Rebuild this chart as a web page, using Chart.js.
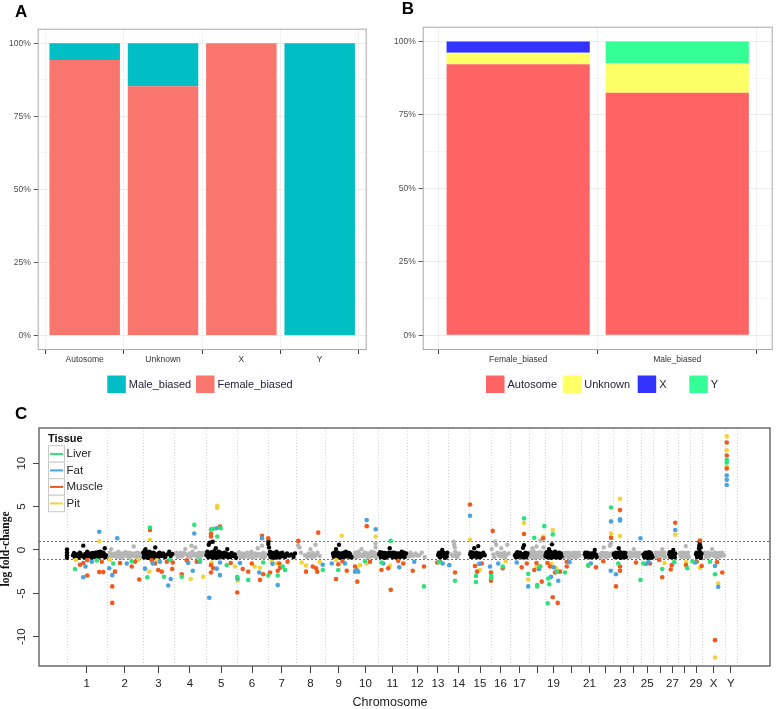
<!DOCTYPE html>
<html>
<head>
<meta charset="utf-8">
<script src="https://cdn.jsdelivr.net/npm/chart.js@4.4.1/dist/chart.umd.min.js"></script>
<style>
  html, body { margin: 0; padding: 0; background: #fff; }
  #wrap { position: relative; width: 776px; height: 709px; overflow: hidden; background: #fff; }
  canvas { position: absolute; }
  #chartA { left: 0; top: 0; }
  #chartB { left: 390px; top: 0; }
  #chartC { left: 0; top: 400px; }
</style>
</head>
<body>
<div id="wrap">
  <canvas id="chartA" width="390" height="400"></canvas>
  <canvas id="chartB" width="386" height="400"></canvas>
  <canvas id="chartC" width="776" height="309"></canvas>
</div>
<script>
// ---- panel A: sex-biased genes by chromosome type
const chromTypes = ['Autosome', 'Unknown', 'X', 'Y'];
const femaleShare = [0.943, 0.853, 1.0, 0.0];
const maleShare = [0.057, 0.147, 0.0, 1.0];

// ---- panel B: chromosome type by bias group
const biasGroups = ['Female_biased', 'Male_biased'];
const autosomeShare = [0.922, 0.825];
const unknownShare = [0.039, 0.101];
const xShare = [0.039, 0.0];
const yShare = [0.0, 0.074];

const percentTicks = [0, 0.125, 0.25, 0.375, 0.5, 0.625, 0.75, 0.875, 1];

// ---- panel C: log fold-change along the genome
const chromosomes = ['1','2','3','4','5','6','7','8','9','10','11','12','13','14','15','16','17','18','19','20','21','22','23','24','25','26','27','28','29','X','Y'];
const chromLengths = [160,144,125,127,123,124,114,116,110,103,114,84,82,84,86,77,76,64,68,75,70,60,54,57,49,54,46,47,48,92,47];
const chromTickLabels = ['1','2','3','4','5','6','7','8','9','10','11','12','13','14','15','16','17','','19','','21','','23','','25','','27','','29','X','Y'];
const fcTicks = [-10, -5, 0, 5, 10];
const fcCutoffs = [1, -1];

// [chromosome, position (Mb), log fold-change]
const liverPoints = [['1',33,-2.2],['1',120,-1.2],['2',26,-1.55],['2',100,-1.3],['3',29,2.6],['3',18,-3.15],['3',85,-3.1],['3',109,-1.15],['4',81,2.9],['4',31,-3.1],['4',104,-1.2],['5',21,2.4],['5',30,2.45],['5',46,1.55],['5',60,2.5],['5',84,-1.75],['6',3,-3.1],['6',47,-3.45],['6',107,-1.45],['7',3,-2.95],['7',41,-2.95],['7',61,-1.9],['7',70,-2.3],['8',107,-2.3],['9',53,-2.3],['10',50,-1.3],['11',50,1.05],['11',13,-1.45],['12',69,-4.2],['13',45,-1.4],['14',27,-3.55],['15',27,-3.0],['15',27,-3.7],['16',2,-3.25],['16',2,-3.0],['16',48,-1.9],['17',56,3.65],['17',73,-2.75],['18',21,1.4],['18',33,-4.05],['18',33,-4.2],['18',61,2.75],['18',45,-1.9],['19',31,1.8],['19',17,-3.95],['19',11,-6.15],['19',13,-3.3],['19',47,-2.5],['20',12,-2.6],['21',30,-1.75],['22',51,4.9],['23',20,-1.55],['24',55,-3.45],['25',9,-1.55],['26',36,-2.2],['27',30,-1.4],['28',36,-2.1],['29',10,-1.3],['X',32,-1.35],['X',52,-2.8],['Y',7,10.4],['Y',7,10.1]];
const fatPoints = [['1',130,2.1],['1',66,-3.15],['1',100,-1.35],['1',75,-1.9],['2',42,1.35],['2',22,-2.9],['2',10,-2.1],['2',80,-1.55],['3',9,-2.15],['3',102,-4.1],['3',112,-3.35],['3',69,-1.35],['3',40,-1.55],['4',81,1.9],['4',75,-2.4],['4',57,-1.5],['4',104,-1.35],['5',14,-5.5],['5',44,2.5],['5',44,-2.15],['5',57,-2.9],['5',57,-1.45],['6',4,-3.3],['6',91,-2.6],['6',102,1.35],['6',14,-1.5],['7',41,-4.05],['7',20,-1.6],['8',107,-1.7],['9',27,-1.55],['9',80,-1.55],['10',57,3.45],['10',93,2.4],['10',10,-2.5],['10',23,-2.5],['10',16,-2.35],['11',20,-1.55],['11',84,-2.0],['12',30,-1.35],['13',60,-1.55],['14',4,-1.75],['15',3,3.95],['15',83,-1.9],['15',40,-1.6],['16',30,-1.55],['17',27,-1.45],['17',73,-4.2],['18',40,-2.2],['19',53,-3.55],['19',24,-3.1],['19',35,-2.0],['20',30,-1.4],['21',40,-1.55],['22',51,3.3],['22',50,-2.4],['23',27,3.55],['23',27,3.4],['23',11,-2.8],['24',55,1.35],['25',20,-1.6],['25',30,-1.4],['27',34,2.3],['29',20,-1.45],['X',52,-1.85],['X',65,-4.25],['Y',7,8.6],['Y',7,8.1],['Y',7,7.5]];
const musclePoints = [['1',82,-2.95],['1',130,-2.55],['1',146,-2.55],['1',66,-1.5],['1',82,-1.15],['1',140,-1.35],['1',53,-1.7],['2',22,-4.2],['2',22,-6.1],['2',33,-2.5],['2',100,-1.9],['2',130,-3.4],['2',113,-1.35],['2',53,-1.5],['3',29,2.3],['3',62,-2.3],['3',76,-2.5],['3',118,-2.2],['3',49,-1.55],['3',96,-1.35],['3',120,-1.45],['3',36,-1.2],['4',31,-2.8],['4',51,-1.2],['4',91,-1.35],['5',21,1.9],['5',21,1.55],['5',57,2.7],['5',21,-2.6],['5',30,-2.1],['5',21,-1.75],['5',100,-1.5],['6',3,-4.9],['6',47,-2.5],['6',25,-2.2],['6',61,-1.55],['6',94,-3.45],['6',107,-2.8],['6',102,1.65],['7',3,1.35],['7',10,-2.6],['7',41,-2.4],['7',47,-1.55],['7',50,-2.05],['7',80,-1.35],['8',9,1.05],['8',89,2.0],['8',40,-2.5],['8',67,-1.9],['8',80,-2.1],['8',85,-2.5],['9',44,-3.35],['9',87,-2.4],['9',53,-1.65],['9',70,-1.3],['10',57,2.75],['10',19,-3.65],['10',10,-1.9],['10',70,-1.35],['11',50,-4.6],['11',13,-2.3],['11',40,-2.1],['11',100,-1.55],['11',80,-1.25],['12',24,-2.4],['12',69,-1.9],['13',49,-1.35],['13',38,-1.45],['14',27,-2.6],['15',3,5.25],['15',23,-1.85],['15',31,-2.5],['15',50,-1.55],['16',8,2.2],['16',1,-3.55],['16',1,-2.6],['16',48,-2.1],['17',56,1.85],['17',47,-2.0],['17',67,-1.55],['18',57,1.35],['18',21,-2.3],['18',51,-3.65],['18',44,-1.9],['18',30,-1.5],['19',31,-5.45],['19',51,-6.1],['19',60,-2.5],['19',40,-2.6],['19',20,-1.9],['19',10,-1.5],['20',19,-1.9],['20',19,-1.35],['21',30,-1.8],['21',61,-2.0],['22',51,1.4],['22',20,-1.3],['23',27,4.6],['23',11,-4.2],['23',27,-1.9],['23',27,-2.4],['24',37,-1.45],['25',36,-1.55],['26',36,-3.15],['26',24,-1.15],['27',34,3.15],['27',16,-2.25],['27',20,-1.75],['28',31,-1.75],['29',40,1.1],['29',47,-1.85],['29',27,-1.35],['X',52,-10.4],['X',81,-2.6],['X',60,-1.4],['Y',7,12.4],['Y',7,10.9],['Y',7,9.4]];
const pitPoints = [['1',130,1.0],['1',37,-1.15],['2',13,-1.15],['2',126,-1.15],['3',29,1.15],['3',26,-2.5],['3',56,-1.2],['4',67,-3.35],['4',117,-3.1],['5',46,5.1],['5',46,4.85],['5',24,-1.45],['5',117,-1.9],['6',5,-3.55],['6',94,-2.05],['6',72,-1.9],['7',37,-1.55],['7',17,-1.35],['8',23,-1.45],['8',40,-1.8],['8',95,-1.4],['9',67,1.65],['9',44,-1.15],['10',93,1.55],['10',17,-2.1],['10',30,-1.75],['10',57,-1.55],['11',47,-1.8],['15',3,1.15],['15',43,-2.3],['16',60,-1.3],['17',56,3.1],['17',73,-3.4],['18',57,1.55],['18',30,-2.0],['19',31,2.3],['19',25,-1.6],['19',45,-2.1],['22',51,1.9],['23',27,5.9],['23',27,1.6],['26',45,-1.5],['27',34,1.75],['28',32,-1.4],['29',40,-2.05],['X',65,-3.85],['X',52,-12.4],['Y',7,13.1],['Y',7,11.5],['Y',7,9.6]];

// non-significant genes (black / grey by chromosome)
const bgPoints = [
  ['1',1,0.05],['1',1,-0.3],['1',1,-0.6],['1',1,-0.9],['1',25,-0.6],['1',29,-0.35],['1',32,-0.8],['1',36,-0.55],['1',40,-0.5],['1',44,-0.75],['1',48,-0.9],['1',52,-0.3],['1',55,-0.4],['1',58,-0.65],['1',62,-0.7],['1',66,0.5],['1',70,-0.85],['1',74,-0.45],['1',78,-0.5],['1',82,-0.2],['1',85,-0.75],['1',89,-0.55],['1',92,-0.4],['1',96,-0.7],['1',100,-0.9],['1',104,-0.35],['1',108,-0.6],['1',112,-0.8],['1',115,-0.3],['1',119,-0.55],['1',122,-0.8],['1',125,-0.25],['1',128,-0.5],['1',132,-0.75],['1',135,-0.2],['1',138,-0.5],['1',142,-0.7],['1',145,-0.3],['1',148,-0.4],['1',152,0.2],['1',154,-0.85],['1',156,-0.6],
  ['2',5,-0.6],['2',9,-0.85],['2',12,-0.3],['2',18,0.1],['2',21,-0.5],['2',25,-0.7],['2',29,-0.45],['2',32,-0.4],['2',36,-0.65],['2',40,-0.8],['2',44,-0.35],['2',47,-0.2],['2',51,-0.75],['2',55,-0.6],['2',59,-0.4],['2',62,-0.9],['2',66,-0.55],['2',70,-0.4],['2',74,-0.25],['2',78,-0.7],['2',82,-0.5],['2',85,-0.3],['2',89,-0.85],['2',92,-0.8],['2',96,-0.35],['2',100,-0.5],['2',104,-0.7],['2',108,0.4],['2',111,-0.4],['2',115,-0.6],['2',119,-0.85],['2',122,-0.3],['2',126,-0.55],['2',130,-0.8],['2',134,-0.4],['2',138,-0.5],
  ['3',2,-0.3],['3',4,-0.85],['3',5,-0.7],['3',7,-0.15],['3',8,-0.5],['3',11,0.1],['3',12,-0.65],['3',14,-0.8],['3',16,-0.25],['3',17,-0.4],['3',19,-0.9],['3',20,-0.6],['3',22,-0.3],['3',24,-0.9],['3',26,-0.55],['3',27,-0.2],['3',29,-0.75],['3',30,-0.5],['3',32,-0.35],['3',34,-0.75],['3',36,-0.55],['3',38,-0.35],['3',40,-0.85],['3',42,-0.6],['3',44,-0.3],['3',46,-0.9],['3',48,-0.5],['3',50,0.3],['3',55,-0.5],['3',58,-0.8],['3',62,-0.8],['3',65,-0.35],['3',68,-0.3],['3',72,-0.7],['3',75,-0.6],['3',82,-0.4],['3',86,-0.75],['3',90,-0.8],['3',98,-0.5],['3',106,-0.2],['3',112,-0.7],['3',118,-0.45],
  ['4',5,-0.5],['4',10,-0.3],['4',15,-0.8],['4',20,-0.55],['4',25,-0.3],['4',30,-0.75],['4',35,-0.6],['4',40,-0.35],['4',45,0.1],['4',50,-0.5],['4',55,-0.7],['4',62,-0.4],['4',66,-0.8],['4',70,0.5],['4',74,-0.2],['4',78,-0.6],['4',85,0.3],['4',88,-0.45],['4',92,-0.8],['4',96,-0.55],['4',100,-0.3],['4',105,-0.75],['4',110,-0.6],['4',115,-0.35],['4',120,-0.4],
  ['5',3,-0.6],['5',6,-0.2],['5',8,-0.3],['5',10,-0.85],['5',12,0.6],['5',14,-0.45],['5',16,0.85],['5',18,-0.7],['5',20,-0.5],['5',22,-0.25],['5',24,-0.8],['5',26,-0.55],['5',28,0.95],['5',30,-0.9],['5',32,-0.4],['5',34,-0.15],['5',36,-0.7],['5',38,-0.5],['5',40,0.2],['5',42,-0.35],['5',44,-0.9],['5',46,-0.6],['5',48,-0.5],['5',50,-0.8],['5',52,-0.2],['5',54,-0.45],['5',56,-0.75],['5',59,-0.3],['5',62,-0.4],['5',65,-0.65],['5',68,-0.85],['5',71,-0.5],['5',74,-0.3],['5',77,-0.75],['5',80,-0.6],['5',83,-0.4],['5',86,0.1],['5',89,-0.8],['5',92,-0.5],['5',98,-0.8],['5',104,-0.35],['5',110,-0.7],['5',116,-0.5],['5',121,-0.9],
  ['6',5,-0.5],['6',10,-0.25],['6',15,-0.8],['6',20,-0.55],['6',25,-0.4],['6',30,-0.85],['6',35,-0.7],['6',40,-0.35],['6',45,-0.3],['6',50,-0.8],['6',55,-0.6],['6',60,-0.2],['6',65,-0.9],['6',70,-0.55],['6',75,-0.4],['6',80,-0.75],['6',85,0.2],['6',90,-0.45],['6',95,-0.6],['6',99,-0.85],['6',102,0.5],['6',105,-0.5],['6',108,-0.3],['6',112,-0.8],['6',115,-0.7],['6',120,-0.5],
  ['7',3,0.7],['7',4,1.0],['7',6,0.3],['7',8,-0.5],['7',10,-0.2],['7',12,-0.8],['7',14,-0.6],['7',16,-0.3],['7',18,-0.9],['7',20,-0.6],['7',22,-0.35],['7',24,-0.9],['7',26,-0.55],['7',28,-0.4],['7',30,-0.8],['7',32,-0.7],['7',34,-0.3],['7',36,-0.2],['7',38,-0.85],['7',40,-0.55],['7',43,-0.4],['7',45,-0.85],['7',48,-0.6],['7',50,-0.4],['7',53,-0.75],['7',56,-0.7],['7',59,-0.3],['7',62,-0.5],['7',70,-0.8],['7',78,-0.4],['7',86,-0.65],['7',95,-0.5],['7',104,-0.8],['7',110,-0.4],
  ['8',8,0.55],['8',14,0.3],['8',20,-0.3],['8',35,-0.6],['8',44,-0.8],['8',50,-0.4],['8',54,-0.65],['8',58,0.1],['8',62,-0.8],['8',66,-0.35],['8',70,-0.5],['8',74,-0.75],['8',78,0.6],['8',82,-0.55],['8',86,-0.3],['8',95,-0.7],
  ['9',32,-0.4],['9',34,-0.65],['9',36,-0.8],['9',38,-0.3],['9',40,-0.55],['9',42,-0.85],['9',44,0.1],['9',46,-0.5],['9',48,-0.9],['9',50,-0.65],['9',52,-0.3],['9',54,-0.75],['9',56,0.6],['9',58,-0.45],['9',60,-0.7],['9',63,-0.9],['9',66,-0.4],['9',69,-0.6],['9',72,-0.85],['9',75,-0.3],['9',78,-0.5],['9',81,-0.75],['9',84,-0.2],['9',88,-0.55],['9',92,-0.75],['9',96,-0.35],['9',100,-0.45],['9',103,-0.85],['9',106,-0.8],
  ['10',4,-0.6],['10',8,-0.85],['10',12,-0.3],['10',16,-0.55],['10',20,-0.8],['10',24,-0.2],['10',28,-0.45],['10',32,-0.7],['10',36,0.1],['10',40,-0.55],['10',44,-0.7],['10',48,-0.3],['10',52,-0.35],['10',56,-0.6],['10',60,-0.85],['10',64,-0.4],['10',68,-0.5],['10',72,-0.75],['10',76,-0.2],['10',80,-0.45],['10',84,-0.7],['10',88,-0.3],['10',92,0.75],['10',92,0.3],['10',95,-0.8],['10',98,-0.5],
  ['11',4,-0.5],['11',7,-0.25],['11',10,-0.8],['11',13,-0.6],['11',16,-0.3],['11',19,-0.85],['11',22,-0.6],['11',25,-0.35],['11',28,-0.9],['11',31,-0.55],['11',34,-0.4],['11',37,-0.75],['11',40,-0.7],['11',43,-0.3],['11',46,0.2],['11',49,-0.65],['11',52,-0.5],['11',55,-0.3],['11',58,-0.85],['11',61,-0.55],['11',64,-0.3],['11',67,-0.8],['11',70,-0.6],['11',73,-0.4],['11',76,-0.9],['11',79,-0.6],['11',82,-0.4],['11',85,-0.85],['11',88,-0.7],['11',91,-0.45],['11',94,-0.2],['11',97,-0.75],['11',100,-0.55],['11',103,-0.3],['11',106,-0.8],['11',111,-0.4],
  ['12',5,-0.5],['12',10,-0.75],['12',15,-0.3],['12',20,-0.55],['12',25,-0.7],['12',35,-0.4],['12',42,-0.65],['12',50,-0.6],['12',60,-0.3],['12',72,-0.8],
  ['13',42,-0.6],['13',44,-0.4],['13',46,-0.3],['13',48,-0.8],['13',50,-0.85],['13',52,-0.55],['13',54,-0.5],['13',56,-0.25],['13',58,0.0],['13',60,-0.65],['13',62,-0.7],['13',64,-0.35],['13',66,-0.4],['13',68,-0.8],['13',70,-0.9],['13',72,-0.5],['13',74,-0.55],['13',76,-0.75],['13',78,-0.3],
  ['14',12,-0.5],['14',18,-0.7],['14',22,0.95],['14',24,0.6],['14',26,0.3],['14',28,-0.2],['14',30,-0.5],['14',33,-0.75],['14',36,-0.8],['14',40,-0.55],['14',44,-0.4],
  ['15',4,-0.5],['15',6,-0.25],['15',8,-0.8],['15',11,-0.6],['15',14,-0.3],['15',17,-0.75],['15',20,0.2],['15',23,-0.45],['15',26,-0.6],['15',29,-0.3],['15',32,-0.85],['15',36,0.45],['15',38,-0.55],['15',40,-0.4],['15',44,-0.8],['15',48,-0.7],['15',52,-0.45],['15',56,-0.3],['15',62,-0.6],
  ['16',4,0.1],['16',10,-0.5],['16',14,-0.8],['16',18,0.95],['16',22,0.6],['16',26,-0.3],['16',30,-0.55],['16',34,-0.7],['16',38,-0.4],['16',42,0.2],['16',46,-0.75],['16',50,-0.5],['16',54,-0.3],['16',58,-0.8],['16',62,-0.55],['16',66,0.6],['16',72,-0.4],
  ['17',20,-0.6],['17',23,-0.8],['17',26,-0.4],['17',29,-0.25],['17',32,-0.8],['17',36,-0.55],['17',40,-0.3],['17',43,-0.7],['17',46,-0.6],['17',49,-0.85],['17',52,0.25],['17',54,-0.45],['17',56,0.55],['17',58,-0.75],['17',60,-0.5],['17',62,-0.3],['17',64,-0.85],['17',67,-0.6],['17',70,-0.4],
  ['18',2,-0.5],['18',4,-0.25],['18',6,-0.8],['18',8,-0.6],['18',10,-0.3],['18',12,-0.75],['18',14,0.2],['18',16,-0.45],['18',18,-0.6],['18',20,-0.2],['18',22,-0.9],['18',24,-0.55],['18',26,-0.4],['18',28,-0.8],['18',30,0.4],['18',32,-0.35],['18',34,-0.7],['18',36,-0.5],['18',38,-0.3],['18',40,-0.85],['18',42,-0.6],['18',44,-0.25],['18',46,1.1],['18',48,-0.7],['18',50,-0.5],['18',52,-0.3],['18',54,-0.8],['18',56,-0.55],['18',58,0.3],['18',60,-0.75],['18',62,-0.4],
  ['19',2,-0.7],['19',4,-0.5],['19',6,-0.25],['19',8,-0.8],['19',10,-0.55],['19',12,-0.3],['19',14,-0.85],['19',16,0.1],['19',18,-0.45],['19',20,-0.6],['19',22,-0.2],['19',24,-0.9],['19',26,-0.65],['19',28,0.65],['19',30,-0.35],['19',32,-0.4],['19',34,-0.8],['19',36,-0.7],['19',38,-0.5],['19',40,-0.2],['19',42,-0.85],['19',44,-0.55],['19',46,-0.3],['19',48,-0.85],['19',50,-0.6],['19',52,-0.35],['19',54,-0.8],['19',56,-0.65],['19',58,-0.3],['19',60,-0.9],['19',62,-0.55],['19',64,-0.45],['19',66,-0.75],
  ['20',2,-0.35],['20',4,-0.5],['20',7,-0.75],['20',10,-0.8],['20',13,-0.45],['20',16,-0.3],['20',19,-0.6],['20',22,-0.6],['20',25,-0.3],['20',28,-0.9],['20',31,-0.55],['20',34,-0.4],['20',37,-0.75],['20',40,-0.7],['20',43,-0.45],['20',46,-0.3],['20',49,-0.8],['20',52,-0.6],['20',55,-0.35],['20',58,-0.85],['20',61,-0.55],['20',64,-0.45],['20',67,-0.3],['20',70,-0.65],
  ['21',16,-0.5],['21',18,-0.3],['21',20,-0.8],['21',23,-0.6],['21',26,-0.3],['21',29,-0.75],['21',32,-0.6],['21',35,-0.4],['21',38,-0.85],['21',41,-0.6],['21',44,-0.4],['21',47,-0.8],['21',50,-0.7],['21',53,-0.35],['21',56,0.0],['21',60,-0.5],['21',64,-0.8],
  ['22',4,-0.5],['22',7,-0.7],['22',10,-0.8],['22',13,-0.4],['22',16,-0.3],['22',19,-0.6],['22',22,0.3],['22',25,-0.75],['22',28,-0.6],['22',31,-0.35],['22',34,-0.85],['22',37,-0.55],['22',40,-0.4],['22',43,-0.7],['22',46,0.5],['22',50,0.75],['22',52,-0.45],['22',54,-0.6],['22',58,-0.3],
  ['23',2,-0.45],['23',4,-0.6],['23',7,-0.8],['23',10,-0.3],['23',13,-0.55],['23',16,-0.8],['23',19,-0.35],['23',22,0.2],['23',24,-0.7],['23',26,-0.5],['23',28,-0.25],['23',30,-0.9],['23',32,-0.6],['23',34,-0.4],['23',36,-0.8],['23',38,-0.7],['23',40,-0.45],['23',42,-0.3],['23',44,-0.85],['23',46,-0.6],['23',48,-0.35],['23',50,-0.8],
  ['24',4,-0.5],['24',7,-0.3],['24',10,-0.8],['24',13,-0.6],['24',16,-0.3],['24',19,-0.75],['24',22,-0.6],['24',25,-0.4],['24',28,0.1],['24',31,-0.5],['24',34,-0.7],['24',37,-0.3],['24',40,-0.4],['24',43,-0.65],['24',46,-0.8],['24',49,-0.35],['24',52,-0.5],
  ['25',10,-0.5],['25',12,-0.7],['25',14,-0.8],['25',16,-0.4],['25',18,-0.3],['25',20,-0.85],['25',22,-0.6],['25',24,-0.35],['25',26,-0.9],['25',28,-0.6],['25',30,-0.45],['25',32,-0.25],['25',34,-0.7],['25',36,-0.9],['25',38,-0.3],['25',40,-0.5],['25',42,-0.6],['25',44,-0.75],['25',46,-0.85],
  ['26',6,-0.5],['26',10,-0.3],['26',14,-0.8],['26',18,-0.55],['26',20,-0.3],['26',24,-0.7],['26',28,-0.6],['26',32,-0.35],['26',36,0.1],['26',39,-0.75],['26',42,-0.5],['26',45,-0.3],['26',48,-0.8],
  ['27',10,-0.5],['27',12,-0.25],['27',14,-0.8],['27',16,-0.6],['27',18,-0.3],['27',20,-0.85],['27',22,-0.6],['27',24,-0.4],['27',26,0.0],['27',28,-0.55],['27',30,-0.7],['27',32,-0.85],['27',34,-0.4],
  ['28',6,-0.5],['28',9,-0.3],['28',12,-0.8],['28',15,-0.55],['28',18,-0.3],['28',21,-0.75],['28',24,-0.6],['28',27,-0.35],['28',30,0.45],['28',33,-0.8],['28',36,-0.5],['28',39,-0.3],['28',42,-0.8],
  ['29',24,-0.5],['29',26,-0.3],['29',28,-0.8],['29',30,-0.6],['29',32,-0.3],['29',34,-0.7],['29',35,-0.45],['29',36,0.2],['29',37,0.5],['29',38,0.95],['29',39,-0.2],['29',40,0.6],['29',41,-0.85],['29',42,-0.6],['29',43,0.3],['29',44,-0.9],['29',46,-0.4],
  ['X',8,-0.5],['X',12,-0.3],['X',16,-0.8],['X',20,-0.55],['X',24,-0.3],['X',28,-0.75],['X',32,-0.6],['X',36,-0.4],['X',40,0.1],['X',44,-0.5],['X',48,-0.7],['X',52,-0.3],['X',56,-0.4],['X',60,-0.85],['X',64,-0.8],['X',68,-0.35],['X',72,-0.5],['X',76,-0.7],['X',80,-0.3],['X',84,-0.55],['X',88,-0.6]
];

const sansFont = '"Liberation Sans", Arial, sans-serif';

// ---------- helpers ----------
function fixedSize(w, h) {
    return scale => {
        if (w !== null) scale.width = w;
        if (h !== null) scale.height = h;
    };
}

function panelPlugin(letter, lx, ly, legendItems, borderColor) {
    return {
        id: 'panel' + letter,
        afterDraw(chart) {
            const ctx = chart.ctx;
            const a = chart.chartArea;
            ctx.save();
            ctx.strokeStyle = borderColor;
            ctx.lineWidth = 1;
            ctx.strokeRect(a.left + 0.5, a.top + 0.5, a.right - a.left - 1, a.bottom - a.top - 1);

            ctx.fillStyle = '#000';
            ctx.font = 'bold 17px ' + sansFont;
            ctx.textBaseline = 'middle';
            ctx.textAlign = 'left';
            ctx.fillText(letter, lx, ly);

            ctx.font = '11px ' + sansFont;
            legendItems.forEach(item => {
                ctx.fillStyle = item.color;
                ctx.fillRect(item.x, 375.5, 18.5, 17.5);
                ctx.fillStyle = '#23233a';
                ctx.fillText(item.label, item.x + 21.5, 384.5);
            });
            ctx.restore();
        }
    };
}

function shareScales(nCats, catLabels, yWidth) {
    return {
        x: {
            type: 'linear',
            stacked: true,
            min: 0.4,
            max: nCats + 0.6,
            offset: false,
            afterBuildTicks: s => { s.ticks = catLabels.map((_, i) => ({ value: i + 1 })); },
            afterFit: fixedSize(null, 17),
            border: { display: false },
            grid: { color: '#f1f1f1', tickColor: '#444', tickLength: 4 },
            ticks: {
                padding: 1,
                maxRotation: 0,
                autoSkip: false,
                color: '#333',
                font: { size: 8.5, family: sansFont },
                callback: (v, i) => catLabels[i]
            }
        },
        y: {
            stacked: true,
            min: -0.05,
            max: 1.05,
            afterBuildTicks: s => { s.ticks = percentTicks.map(v => ({ value: v })); },
            afterFit: fixedSize(yWidth, null),
            border: { display: false },
            grid: {
                color: c => (c.tick && Math.round(c.tick.value * 1000) % 250 === 0) ? '#ececec' : '#f5f5f5',
                tickColor: c => (c.tick && Math.round(c.tick.value * 1000) % 250 === 0) ? '#555' : 'rgba(0,0,0,0)',
                tickLength: 4
            },
            ticks: {
                padding: 3,
                color: '#4d4d4d',
                font: { size: 8.5, family: sansFont },
                callback: v => (Math.round(v * 1000) % 250 === 0) ? Math.round(v * 100) + '%' : ''
            }
        }
    };
}

const barStyle = { borderWidth: 0, barPercentage: 0.9, categoryPercentage: 1 };

// ---------- panel A ----------
new Chart(document.getElementById('chartA'), {
    type: 'bar',
    data: {
        datasets: [
            { label: 'Female_biased', data: femaleShare.map((v, i) => ({ x: i + 1, y: v })), backgroundColor: '#f8766d', ...barStyle },
            { label: 'Male_biased', data: maleShare.map((v, i) => ({ x: i + 1, y: v })), backgroundColor: '#00bfc4', ...barStyle }
        ]
    },
    options: {
        responsive: false,
        animation: false,
        layout: { padding: { top: 28.7, right: 23.3, bottom: 33, left: 0 } },
        scales: shareScales(chromTypes.length, chromTypes, 37.7),
        plugins: { legend: { display: false }, tooltip: { enabled: false } }
    },
    plugins: [panelPlugin('A', 15, 12.5, [
        { label: 'Male_biased', color: '#00bfc4', x: 107.3 },
        { label: 'Female_biased', color: '#f8766d', x: 196 }
    ], '#a8a8ae')]
});

// ---------- panel B ----------
new Chart(document.getElementById('chartB'), {
    type: 'bar',
    data: {
        datasets: [
            { label: 'Autosome', data: autosomeShare.map((v, i) => ({ x: i + 1, y: v })), backgroundColor: '#ff6363', ...barStyle },
            { label: 'Unknown', data: unknownShare.map((v, i) => ({ x: i + 1, y: v })), backgroundColor: '#ffff66', ...barStyle },
            { label: 'X', data: xShare.map((v, i) => ({ x: i + 1, y: v })), backgroundColor: '#3333ff', ...barStyle },
            { label: 'Y', data: yShare.map((v, i) => ({ x: i + 1, y: v })), backgroundColor: '#33ff96', ...barStyle }
        ]
    },
    options: {
        responsive: false,
        animation: false,
        layout: { padding: { top: 26.7, right: 3.3, bottom: 33, left: 0 } },
        scales: shareScales(biasGroups.length, biasGroups, 32.7),
        plugins: { legend: { display: false }, tooltip: { enabled: false } }
    },
    plugins: [panelPlugin('B', 11.7, 9, [
        { label: 'Autosome', color: '#ff6363', x: 96 },
        { label: 'Unknown', color: '#ffff66', x: 172.7 },
        { label: 'X', color: '#3333ff', x: 247.7 },
        { label: 'Y', color: '#33ff96', x: 299.3 }
    ], '#a8a8ae')]
});

// ---------- panel C ----------
const chromStarts = [];
chromLengths.reduce((acc, len, i) => { chromStarts[i] = acc; return acc + len; }, 0);
const genomeEnd = chromStarts[chromStarts.length - 1] + chromLengths[chromLengths.length - 1];
const chromCenters = chromStarts.map((s, i) => s + chromLengths[i] / 2);

function toXY(list) {
    return list.map(([chr, pos, val]) => ({ x: chromStarts[chromosomes.indexOf(chr)] + pos, y: val }));
}

const oddChrom = p => chromosomes.indexOf(p[0]) % 2 === 0;

const tissueSets = [
    { label: 'Liver', points: liverPoints, color: '#2ee27a' },
    { label: 'Fat', points: fatPoints, color: '#4aa3df' },
    { label: 'Muscle', points: musclePoints, color: '#f05a1e' },
    { label: 'Pit', points: pitPoints, color: '#f2d43a' }
];

const manhattanPlugin = {
    id: 'manhattanExtras',
    beforeDatasetsDraw(chart) {
        const ctx = chart.ctx;
        const a = chart.chartArea;
        const xs = chart.scales.x;
        const ys = chart.scales.y;
        ctx.save();
        ctx.lineWidth = 1;
        ctx.setLineDash([1, 2]);
        ctx.strokeStyle = '#d4d4d4';
        chromStarts.concat([genomeEnd]).forEach(b => {
            const px = Math.round(xs.getPixelForValue(b)) + 0.5;
            ctx.beginPath();
            ctx.moveTo(px, a.top);
            ctx.lineTo(px, a.bottom);
            ctx.stroke();
        });
        ctx.strokeStyle = '#f03a3a';
        ctx.setLineDash([2, 2]);
        fcCutoffs.forEach(v => {
            const py = Math.round(ys.getPixelForValue(v)) + 0.5;
            ctx.beginPath();
            ctx.moveTo(a.left, py);
            ctx.lineTo(a.right, py);
            ctx.stroke();
        });
        ctx.restore();
    },
    afterDraw(chart) {
        const ctx = chart.ctx;
        const a = chart.chartArea;
        const ys = chart.scales.y;
        ctx.save();
        ctx.strokeStyle = '#555';
        ctx.lineWidth = 1.3;
        ctx.strokeRect(a.left, a.top, a.right - a.left, a.bottom - a.top);

        // rotated y tick labels
        ctx.fillStyle = '#222';
        ctx.font = '11.5px ' + sansFont;
        ctx.textAlign = 'center';
        ctx.textBaseline = 'middle';
        fcTicks.forEach(v => {
            ctx.save();
            ctx.translate(22, ys.getPixelForValue(v));
            ctx.rotate(-Math.PI / 2);
            ctx.fillText(String(v), 0, 0);
            ctx.restore();
        });

        // axis titles
        ctx.save();
        ctx.translate(6, 149);
        ctx.rotate(-Math.PI / 2);
        ctx.font = 'bold 11.5px "Liberation Serif", "Times New Roman", serif';
        ctx.fillStyle = '#111';
        ctx.fillText('log fold-change', 0, 0);
        ctx.restore();

        ctx.font = '12.5px ' + sansFont;
        ctx.fillStyle = '#222';
        ctx.fillText('Chromosome', 390, 303);

        // panel letter
        ctx.textAlign = 'left';
        ctx.fillStyle = '#000';
        ctx.font = 'bold 17px ' + sansFont;
        ctx.fillText('C', 15, 14);

        // tissue legend
        ctx.font = 'bold 11px ' + sansFont;
        ctx.fillStyle = '#111';
        ctx.fillText('Tissue', 48, 38.5);
        tissueSets.forEach((t, i) => {
            const y0 = 45.7 + i * 16.5;
            ctx.fillStyle = '#fff';
            ctx.fillRect(48.5, y0, 16, 16.5);
            ctx.strokeStyle = '#c9c9c9';
            ctx.lineWidth = 1;
            ctx.strokeRect(48.5, y0, 16, 16.5);
            ctx.strokeStyle = t.color;
            ctx.lineWidth = 2;
            ctx.beginPath();
            ctx.moveTo(50, y0 + 8.25);
            ctx.lineTo(63, y0 + 8.25);
            ctx.stroke();
            ctx.fillStyle = '#222';
            ctx.font = '11.5px ' + sansFont;
            ctx.fillText(t.label, 66.5, y0 + 8.5);
        });
        ctx.restore();
    }
};

const pointStyle = { showLine: false, pointBorderWidth: 0, pointHoverRadius: 0 };

new Chart(document.getElementById('chartC'), {
    type: 'scatter',
    data: {
        datasets: tissueSets.map(t => ({
            label: t.label,
            data: toXY(t.points),
            backgroundColor: t.color,
            pointRadius: 2.3,
            ...pointStyle
        })).concat([
            { label: 'odd', data: toXY(bgPoints.filter(oddChrom)), backgroundColor: '#000', pointRadius: 2.2, ...pointStyle },
            { label: 'even', data: toXY(bgPoints.filter(p => !oddChrom(p))), backgroundColor: '#b6b6b6', pointRadius: 2.2, ...pointStyle }
        ])
    },
    options: {
        responsive: false,
        animation: false,
        layout: { padding: { top: 28, right: 6, bottom: 0, left: 0 } },
        scales: {
            x: {
                type: 'linear',
                min: -111,
                max: genomeEnd + 133,
                afterBuildTicks: s => { s.ticks = chromCenters.map(v => ({ value: v })); },
                afterFit: fixedSize(null, 43),
                border: { display: false },
                grid: { drawOnChartArea: false, color: '#444', tickLength: 7 },
                ticks: {
                    padding: 4,
                    autoSkip: false,
                    maxRotation: 0,
                    color: '#222',
                    font: { size: 11.5, family: sansFont },
                    callback: (v, i) => chromTickLabels[i]
                }
            },
            y: {
                min: -13.38,
                max: 14.07,
                afterBuildTicks: s => { s.ticks = fcTicks.map(v => ({ value: v })); },
                afterFit: fixedSize(39, null),
                border: { display: false },
                grid: { drawOnChartArea: false, color: '#444', tickLength: 6 },
                ticks: { display: false }
            }
        },
        plugins: { legend: { display: false }, tooltip: { enabled: false } }
    },
    plugins: [manhattanPlugin]
});
</script>
</body>
</html>
